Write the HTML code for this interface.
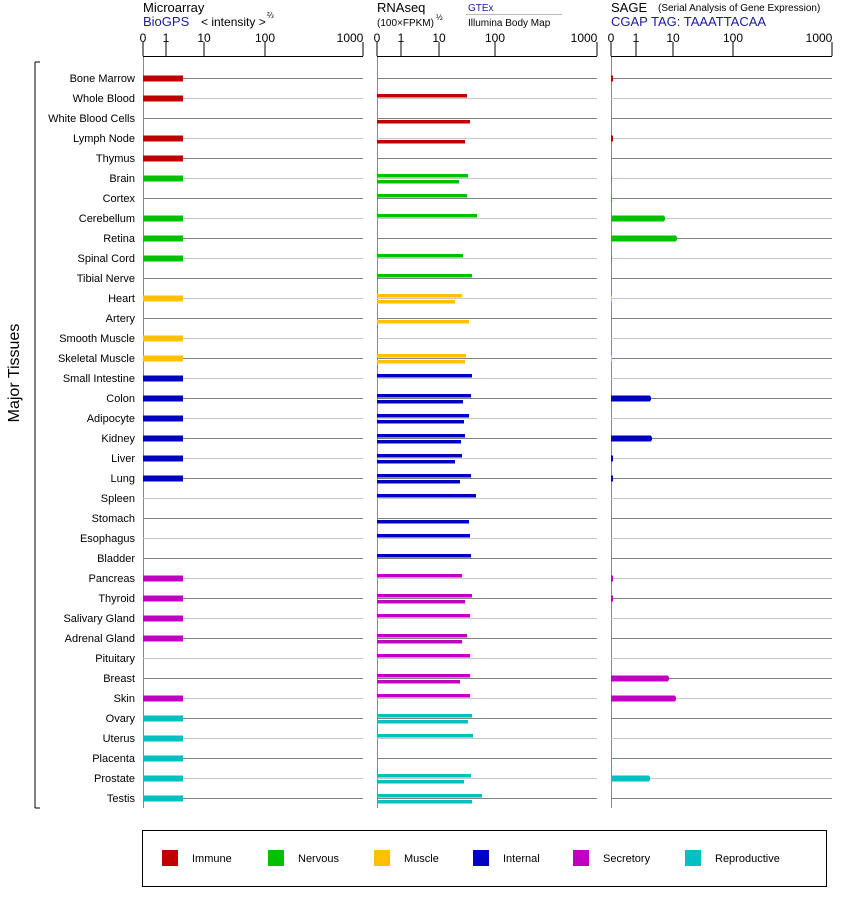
<!DOCTYPE html>
<html><head><meta charset="utf-8"><style>
body{margin:0;background:#fff;}
svg{display:block;font-family:"Liberation Sans",Arial,sans-serif;}
</style></head><body>
<svg width="842" height="900" xmlns="http://www.w3.org/2000/svg" id="s">
<g font-size="13" fill="#000">
<text x="143" y="12">Microarray</text>
<text x="143" y="26" fill="#1a1aa0">BioGPS</text>
<text x="201" y="26" font-size="12">&lt; intensity &gt;</text>
<text x="267" y="18" font-size="8">⅔</text>
<text x="377" y="12">RNAseq</text>
<text x="377" y="26" font-size="10">(100×FPKM)</text>
<text x="436" y="20" font-size="8">½</text>
<text x="468" y="11" font-size="10" fill="#1a1aa0">GTEx</text>
<line x1="466" y1="14.5" x2="562" y2="14.5" stroke="#bbb"/>
<text x="468" y="26" font-size="10">Illumina Body Map</text>
<text x="611" y="12">SAGE</text>
<text x="658" y="11" font-size="10">(Serial Analysis of Gene Expression)</text>
<text x="611" y="26" fill="#1a1aa0">CGAP TAG: TAAATTACAA</text>
</g>
<g id="axes" font-size="12" text-anchor="middle"></g>
<g id="rows"></g>
<line x1="35" y1="62" x2="35" y2="808" stroke="#000"/>
<line x1="35" y1="62" x2="40" y2="62" stroke="#000"/>
<line x1="35" y1="808" x2="40" y2="808" stroke="#000"/>
<text x="19" y="373" font-size="16" text-anchor="middle" transform="rotate(-90 19 373)">Major Tissues</text>
<rect x="142.5" y="830.5" width="684" height="56" fill="none" stroke="#000"/>
<g font-size="11" id="leg"></g>
</svg>
<script>
var NS="http://www.w3.org/2000/svg";
function el(p,t,a,txt){var e=document.createElementNS(NS,t);for(var k in a)e.setAttribute(k,a[k]);if(txt!=null)e.textContent=txt;document.getElementById(p).appendChild(e);return e;}
var panels=[[143,166,204,265,363],[377,401,439,495,597],[611,636,673,733,832]];
var labs=["0","1","10","100","1000"];
panels.forEach(function(p){
 el("axes","line",{x1:p[0],y1:56.5,x2:p[4],y2:56.5,stroke:"#000"});
 p.forEach(function(x,i){el("axes","line",{x1:x,y1:42,x2:x,y2:56,stroke:"#000"});
  var tx=x; if(i==4)tx=x-13; el("axes","text",{x:tx,y:42},labs[i]);});
 el("axes","line",{x1:p[0]+0.5,y1:57,x2:p[0]+0.5,y2:808,stroke:"#888"});
});
var C={i:"#c00000",n:"#00c000",m:"#ffc000",t:"#0000c0",s:"#c000c0",r:"#00c0c0"};
var R=[
["Bone Marrow","i",1,0,0,613],["Whole Blood","i",1,467,0,0],["White Blood Cells","i",0,0,470,0],["Lymph Node","i",1,0,465,613],["Thymus","i",1,0,0,0],
["Brain","n",1,468,459,612],["Cortex","n",0,467,0,612],["Cerebellum","n",1,477,0,664],["Retina","n",1,0,0,676],["Spinal Cord","n",1,463,0,612],["Tibial Nerve","n",0,472,0,0],
["Heart","m",1,462,455,612],["Artery","m",0,0,469,0],["Smooth Muscle","m",1,0,0,0],["Skeletal Muscle","m",1,466,465,612],
["Small Intestine","t",1,472,0,0],["Colon","t",1,471,463,650],["Adipocyte","t",1,469,464,0],["Kidney","t",1,465,461,651],["Liver","t",1,462,455,613],["Lung","t",1,471,460,613],["Spleen","t",0,476,0,0],["Stomach","t",0,0,469,0],["Esophagus","t",0,470,0,0],["Bladder","t",0,471,0,0],
["Pancreas","s",1,462,0,613],["Thyroid","s",1,472,465,613],["Salivary Gland","s",1,470,0,0],["Adrenal Gland","s",1,467,462,0],["Pituitary","s",0,470,0,0],["Breast","s",0,470,460,668],["Skin","s",1,470,0,675],
["Ovary","r",1,472,468,0],["Uterus","r",1,473,0,0],["Placenta","r",1,0,0,612],["Prostate","r",1,471,464,649],["Testis","r",1,482,472,0]];
R.forEach(function(r,k){
 var y=78+20*k, col=k%2?"#c8c8c8":"#808080", c=C[r[1]];
 el("rows","text",{x:135,y:y+4,"font-size":11,"text-anchor":"end"},r[0]);
 panels.forEach(function(p){el("rows","line",{x1:p[0],y1:y+0.5,x2:p[4],y2:y+0.5,stroke:col});});
 if(r[2])el("rows","rect",{x:143,y:y-2.5,width:40,height:6,fill:c});
 if(r[3])el("rows","rect",{x:377,y:y-4,width:r[3]-377,height:3.5,fill:c});
 if(r[4])el("rows","rect",{x:377,y:y+2,width:r[4]-377,height:3.5,fill:c});
 if(r[5]){var w=r[5]-611;el("rows","rect",{x:611,y:y-2.5,width:w,height:6,fill:c});
  if(w>5)el("rows","rect",{x:r[5]-1,y:y-1.5,width:2,height:4,fill:c});}
});
var L=[["Immune","i",162],["Nervous","n",268],["Muscle","m",374],["Internal","t",473],["Secretory","s",573],["Reproductive","r",685]];
L.forEach(function(l){el("leg","rect",{x:l[2],y:850,width:16,height:16,fill:C[l[1]]});el("leg","text",{x:l[2]+30,y:862},l[0]);});
</script>
</body></html>
